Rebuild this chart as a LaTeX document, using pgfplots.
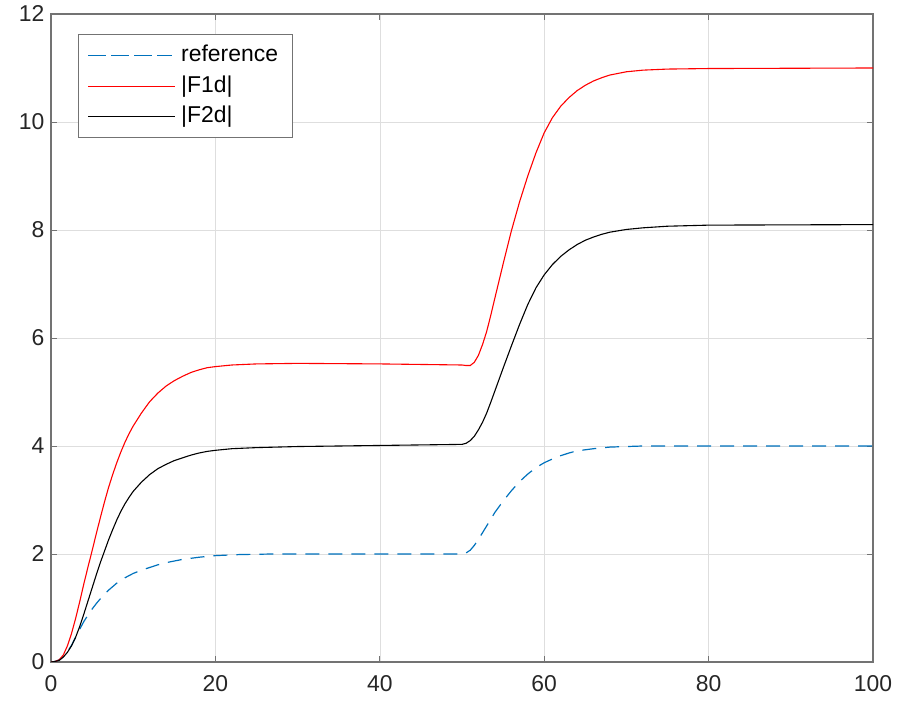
\documentclass[border=0pt]{standalone}
\usepackage{fontspec}
\setmainfont{Liberation Sans}
\usepackage{pgfplots}
\pgfplotsset{compat=1.18}
\definecolor{mlblue}{rgb}{0,0.447,0.741}
\definecolor{axgray}{rgb}{0.45,0.45,0.45}
\begin{document}
\begin{tikzpicture}
\useasboundingbox (-51bp,-46bp) rectangle (850bp,662bp);
\begin{axis}[
  at={(0,0)}, anchor=south west,
  scale only axis, width=822bp, height=648bp,
  xmin=0, xmax=100, ymin=0, ymax=12,
  xtick={0,20,40,60,80,100}, ytick={0,2,4,6,8,10,12},
  grid=major, grid style={black!13, line width=0.6bp},
  axis line style={axgray, line width=1.1bp},
  tick style={axgray, line width=0.8bp},
  major tick length=6bp, tick align=inside,
  /pgf/number format/assume math mode=true,
  ticklabel style={font=\fontsize{23}{27}\selectfont, text=black!85},
  xticklabel style={yshift=-10bp},
  yticklabel style={xshift=-3bp},
  legend style={at={(axis description cs:0.0328,0.969)}, anchor=north west,
    draw=axgray, line width=1.1bp, inner xsep=9bp, inner ysep=7bp,
    row sep=2.5bp,
    font=\fontsize{23}{27}\selectfont,
    nodes={text height=17bp, text depth=5bp, inner ysep=3bp, inner xsep=5.5bp}},
  legend cell align=left,
  legend image code/.code={\path (0bp,0bp) -- (87bp,0bp);\draw[#1] (4bp,0bp) -- (84bp,0bp);},
]
\addplot[mlblue, line width=1.2bp, dash pattern=on 14bp off 9bp] coordinates {
(0,0) (0.5,0.01) (1,0.04) (1.5,0.1) (2,0.19) (2.5,0.31) (3,0.46) (3.5,0.61) (4,0.75) (4.5,0.87) (5,0.98) (5.5,1.08) (6,1.17) (7,1.33) (8,1.46) (9,1.56) (10,1.64) (11,1.7) (12,1.75) (13,1.8) (14,1.84) (15,1.87) (16,1.9) (18,1.94) (20,1.97) (23,1.99) (27,2.0) (50,2.0)
(50.5,2.02) (51,2.07) (51.5,2.16) (52,2.27) (53,2.52) (54,2.77) (55,2.98) (56,3.17) (57,3.34) (58,3.48) (59,3.6) (60,3.69) (61,3.76) (62,3.82) (63,3.87) (64,3.91) (66,3.95) (68,3.98) (72,4.0) (100,4.0)
};
\addlegendentry{reference}
\addplot[red, line width=1.1bp] coordinates {
(0,0) (0.5,0.01) (1,0.04) (1.5,0.13) (2,0.3) (2.5,0.53) (3,0.81) (3.5,1.12) (4,1.45) (4.5,1.76) (5,2.06) (5.5,2.37) (6,2.67) (6.5,2.96) (7,3.23) (7.5,3.47) (8,3.69) (8.5,3.89) (9,4.07) (9.5,4.23) (10,4.37) (11,4.61) (12,4.82) (13,4.98) (14,5.11) (15,5.21) (16,5.29) (17,5.36) (18,5.41) (19,5.45) (20,5.47) (22,5.5) (25,5.52) (30,5.53) (40,5.52) (50,5.5)
(50.5,5.49) (51,5.49) (51.5,5.55) (52,5.68) (52.5,5.88) (53,6.12) (53.5,6.42) (54,6.74) (55,7.37) (56,7.98) (57,8.52) (58,9.0) (59,9.43) (60,9.8) (61,10.08) (62,10.29) (63,10.45) (64,10.58) (65,10.68) (66,10.76) (67,10.82) (68,10.87) (70,10.93) (72,10.96) (75,10.98) (80,10.99) (100,11.0)
};
\addlegendentry{|F1d|}
\addplot[black, line width=1.1bp] coordinates {
(0,0) (0.5,0.01) (1,0.03) (1.5,0.09) (2,0.18) (2.5,0.3) (3,0.46) (3.5,0.66) (4,0.89) (4.5,1.13) (5,1.37) (5.5,1.61) (6,1.84) (6.5,2.05) (7,2.26) (7.5,2.45) (8,2.63) (8.5,2.79) (9,2.93) (9.5,3.05) (10,3.16) (11,3.33) (12,3.47) (13,3.58) (14,3.66) (15,3.73) (16,3.78) (17,3.83) (18,3.87) (19,3.9) (20,3.92) (22,3.95) (25,3.97) (30,3.99) (40,4.01) (50,4.03)
(50.5,4.05) (51,4.1) (51.5,4.18) (52,4.3) (52.5,4.44) (53,4.61) (53.5,4.81) (54,5.02) (55,5.44) (56,5.85) (57,6.25) (58,6.62) (59,6.93) (60,7.17) (61,7.36) (62,7.51) (63,7.63) (64,7.73) (65,7.81) (66,7.87) (67,7.92) (68,7.96) (70,8.01) (72,8.04) (75,8.07) (80,8.09) (100,8.1)
};
\addlegendentry{|F2d|}
\end{axis}
\end{tikzpicture}
\end{document}
